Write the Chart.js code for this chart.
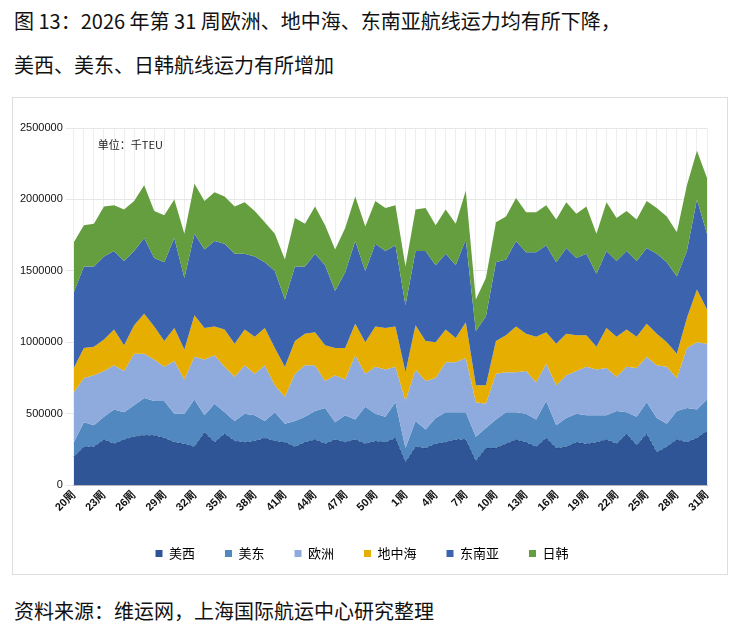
<!DOCTYPE html>
<html><head><meta charset="utf-8">
<script src="https://cdn.jsdelivr.net/npm/chart.js@4"></script>
<style>
body{margin:0;background:#fff;font-family:"Noto Sans CJK SC",sans-serif;width:740px;height:635px;position:relative;overflow:hidden}
.t{position:absolute;left:14px;font-size:20px;color:#111}
#box{position:absolute;left:12px;top:97px;width:716px;height:478px;border:1px solid #ddd;box-sizing:border-box}
</style></head><body>
<div class="t" style="top:6px">图 13：2026 年第 31 周欧洲、地中海、东南亚航线运力均有所下降，</div>
<div class="t" style="top:50px">美西、美东、日韩航线运力有所增加</div>
<div id="box"><canvas id="c" width="714" height="476"></canvas></div>
<div class="t" style="top:596px">资料来源：维运网，上海国际航运中心研究整理</div>
<script>
const weeks=[];for(let w=20;w<=52;w++)weeks.push(w+'周');for(let w=1;w<=31;w++)weeks.push(w+'周');
// cumulative (stacked) tops, in TEU-thousands
const cumMeiXi=[200,270,270,320,290,320,340,350,350,330,300,290,270,370,300,360,310,300,310,330,310,300,270,300,320,290,320,300,320,290,310,300,330,
160,270,260,290,300,320,320,170,260,260,290,320,300,270,330,260,270,300,290,300,320,290,360,280,360,230,270,320,300,330,380];
const cumMeiDong=[300,440,420,480,530,510,560,610,590,590,500,500,600,490,570,510,450,500,490,450,510,430,450,480,520,540,440,490,460,550,500,480,580,
260,450,390,470,510,510,510,340,400,460,510,510,500,460,590,420,470,500,490,490,490,520,510,480,580,470,430,520,540,530,600];
const cumOuZhou=[650,750,770,800,840,800,920,920,880,830,870,740,900,880,910,830,760,840,780,840,700,620,780,840,840,730,770,740,910,780,830,810,830,
590,810,730,750,860,860,890,580,570,780,790,790,800,720,850,700,770,800,830,810,820,760,830,820,900,840,830,750,960,1000,990];
const cumDiZhongHai=[820,960,970,1020,1090,980,1120,1200,1110,1010,1100,950,1190,1100,1110,1090,990,1090,1040,1100,960,830,1010,1060,1070,980,960,960,1130,1000,1110,1100,1110,
790,1120,1010,1000,1090,1030,1140,700,700,1010,1050,1110,1060,1040,1070,990,1060,1050,1050,970,1100,1040,1090,1040,1130,1060,1000,920,1170,1370,1230];
const cumDongNanYa=[1350,1530,1530,1600,1640,1570,1640,1730,1590,1560,1730,1450,1760,1650,1710,1690,1620,1620,1600,1560,1500,1300,1530,1530,1620,1540,1360,1490,1710,1500,1690,1640,1680,
1260,1640,1640,1540,1620,1540,1720,1080,1180,1560,1580,1710,1630,1630,1680,1560,1660,1590,1620,1480,1640,1570,1640,1570,1660,1620,1560,1460,1640,2000,1760];
const cumRiHan=[1700,1820,1830,1950,1960,1930,1990,2100,1920,1890,2000,1760,2110,1990,2050,2020,1950,1980,1920,1840,1760,1580,1870,1830,1950,1820,1650,1800,2020,1810,1990,1940,1960,
1530,1930,1940,1820,1930,1830,2060,1300,1450,1840,1880,2010,1910,1910,1960,1860,1980,1900,1950,1760,1980,1870,1920,1860,1990,1940,1880,1770,2100,2340,2150];
const names=['美西','美东','欧洲','地中海','东南亚','日韩'];
const cols=['#2F5597','#5088BF','#8FAADC','#E5AE00','#3C64AE','#659E3F'];
const series=[cumMeiXi,cumMeiDong,cumOuZhou,cumDiZhongHai,cumDongNanYa,cumRiHan];
const yTicks=[0,500000,1000000,1500000,2000000,2500000];
const unitPlugin={id:'unit',afterDraw(ch){const c=ch.ctx,a=ch.chartArea;c.save();c.font='11px "Noto Sans CJK SC"';c.fillStyle='#222';c.fillText('单位：千TEU',a.left+24,a.top+17);c.restore();}};
new Chart(document.getElementById('c'),{type:'line',
data:{labels:weeks,datasets:series.map((s,i)=>({label:names[i],data:s.map(v=>v*1000),backgroundColor:cols[i],borderColor:i==0?'#1F3C70':cols[i],borderWidth:i==0?1:0,borderDash:i==0?[3,2]:[],pointRadius:0,fill:i==0?'origin':'-1',tension:0,order:6-i}))},
options:{responsive:false,animation:false,devicePixelRatio:1,
layout:{padding:{left:4,right:20,top:30,bottom:4}},
plugins:{legend:{position:'bottom',labels:{boxWidth:7,boxHeight:7,padding:30,font:{size:13,family:'Noto Sans CJK SC'},color:'#111',generateLabels(ch){return names.map((n,i)=>({text:n,fillStyle:cols[i],strokeStyle:cols[i],lineWidth:0,datasetIndex:i}));}}},tooltip:{enabled:false}},
scales:{x:{grid:{color:'#eee',drawTicks:false},border:{color:'#bbb'},ticks:{autoSkip:false,maxRotation:45,minRotation:45,font:{size:11,weight:'bold'},color:'#111',callback(v,i){return i%3==0?weeks[i]:'';}}},
y:{min:0,max:2500000,afterBuildTicks(ax){ax.ticks=yTicks.map(v=>({value:v}));},grid:{color:'#e6e6e6'},border:{display:false},ticks:{font:{size:11},color:'#111',callback(v){return String(v);}}}}},
plugins:[unitPlugin]});
</script>
</body></html>
